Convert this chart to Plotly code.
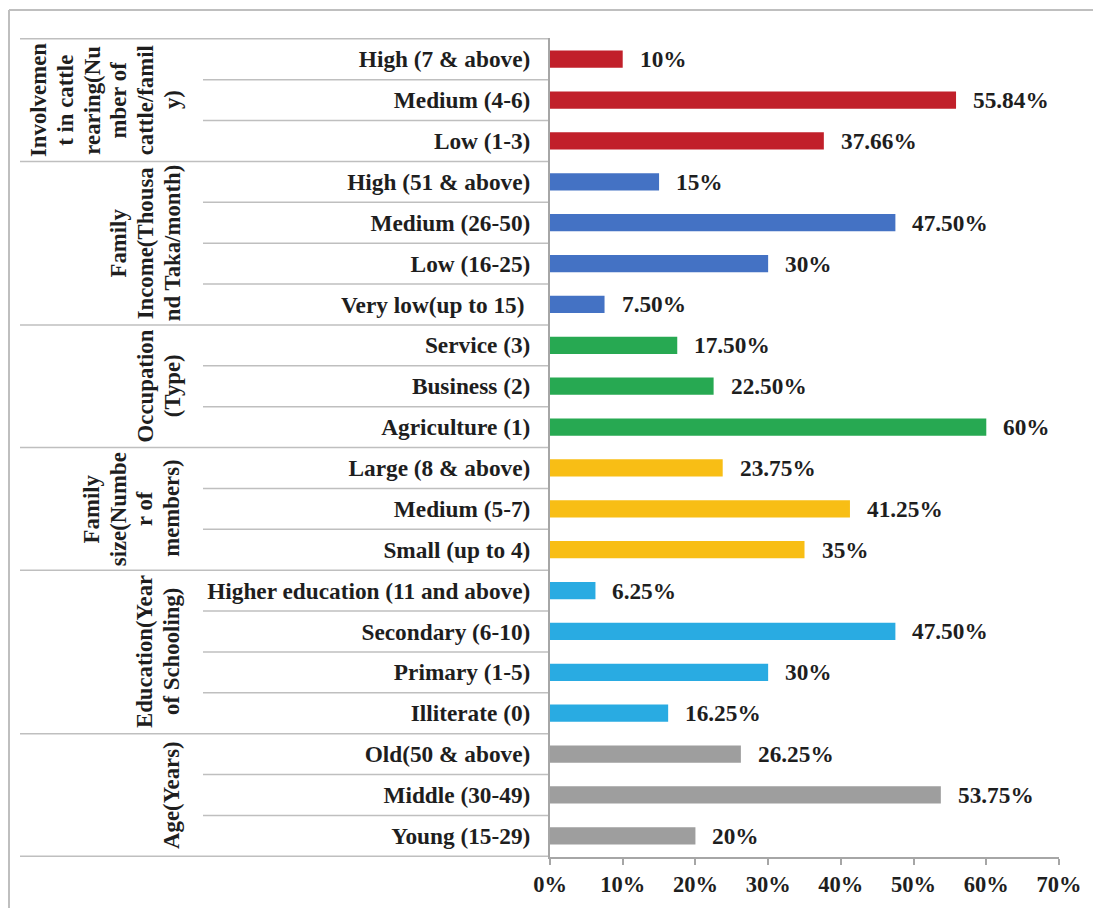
import plotly.graph_objects as go

# ---------------- data ----------------
categories = [
    "High (7 & above)", "Medium (4-6)", "Low (1-3)",
    "High (51 & above)", "Medium (26-50)", "Low (16-25)", "Very low(up to 15) ",
    "Service (3)", "Business (2)", "Agriculture (1)",
    "Large (8 & above)", "Medium (5-7)", "Small (up to 4)",
    "Higher education (11 and above)", "Secondary (6-10)", "Primary (1-5)", "Illiterate (0)",
    "Old(50 & above)", "Middle (30-49)", "Young (15-29)",
]
values = [10, 55.84, 37.66,
          15, 47.50, 30, 7.50,
          17.50, 22.50, 60,
          23.75, 41.25, 35,
          6.25, 47.50, 30, 16.25,
          26.25, 53.75, 20]
value_labels = ["10%", "55.84%", "37.66%",
                "15%", "47.50%", "30%", "7.50%",
                "17.50%", "22.50%", "60%",
                "23.75%", "41.25%", "35%",
                "6.25%", "47.50%", "30%", "16.25%",
                "26.25%", "53.75%", "20%"]
group_lines = [
    ["Involvemen", "t in cattle", "rearing(Nu", "mber of", "cattle/famil", "y)"],
    ["Family", "Income(Thousa", "nd Taka/month)"],
    ["Occupation", "(Type)"],
    ["Family", "size(Numbe", "r of", "members)"],
    ["Education(Year", "of Schooling)"],
    ["Age(Years)"],
]
group_sizes = [3, 4, 3, 3, 4, 3]
group_colors = ["#C1202A", "#4472C4", "#27A952", "#F8BE15", "#29ABE2", "#9E9E9E"]
x_ticks = [0, 10, 20, 30, 40, 50, 60, 70]

# ---------------- layout constants ----------------
OFF = 8                      # page body margin compensation
W, H = 1101 - OFF, 908 - OFF
ML, MR, MT, MB = 550 - OFF, 42, 38 - OFF, 51
PW = W - ML - MR
PH = H - MT - MB
FONT = "Liberation Serif, Times New Roman, serif"
TXT = "#1E1E1E"
GRID = "#BFBFBF"
AXIS = "#A6A6A6"
FS_CAT = 23.3
FS_GRP = 22.8
FS_TICK = 22.5


def px_x(xref_px):
    return (xref_px - OFF - ML) / PW


def px_y(yref_px):
    return (H - MB - (yref_px - OFF)) / PH


bar_colors = []
for c, n in zip(group_colors, group_sizes):
    bar_colors += [c] * n

fig = go.Figure()
fig.add_trace(go.Bar(
    x=[v / 100 for v in values],
    y=categories,
    orientation="h",
    marker=dict(color=bar_colors, line=dict(width=0)),
    width=0.42,
    hoverinfo="x+y",
))

annotations = []
for v, c, lab in zip(values, categories, value_labels):
    annotations.append(dict(
        x=v / 100, y=c, xref="x", yref="y", text=lab, showarrow=False,
        xanchor="left", yanchor="middle", xshift=15,
        font=dict(family=FONT, size=FS_CAT, color=TXT, weight="bold"),
    ))

shapes = []
start = 0
for lines, n in zip(group_lines, group_sizes):
    center = start + (n - 1) / 2
    k = len(lines)
    for i, line in enumerate(lines):
        xc = 172 - (k - 1 - i) * 26.8
        annotations.append(dict(
            x=px_x(xc), y=center, xref="paper", yref="y", text=line,
            showarrow=False, textangle=-90, xanchor="center", yanchor="middle",
            font=dict(family=FONT, size=FS_GRP, color=TXT, weight="bold"),
        ))
    for j in range(1, n):
        shapes.append(dict(type="line", xref="paper", yref="y",
                           x0=px_x(203), x1=0, y0=start + j - 0.5, y1=start + j - 0.5,
                           line=dict(color=GRID, width=1.5), layer="below"))
    shapes.append(dict(type="line", xref="paper", yref="y",
                       x0=px_x(20), x1=0, y0=start - 0.5, y1=start - 0.5,
                       line=dict(color=GRID, width=1.5), layer="below"))
    start += n
shapes.append(dict(type="line", xref="paper", yref="y",
                   x0=px_x(20), x1=0, y0=start - 0.5, y1=start - 0.5,
                   line=dict(color=GRID, width=1.5), layer="below"))

# outer chart border (top and left visible)
shapes.append(dict(type="line", xref="paper", yref="paper",
                   x0=px_x(9), x1=px_x(1110), y0=px_y(10), y1=px_y(10),
                   line=dict(color=GRID, width=2)))
shapes.append(dict(type="line", xref="paper", yref="paper",
                   x0=px_x(9), x1=px_x(9), y0=px_y(10), y1=px_y(915),
                   line=dict(color=GRID, width=2)))

fig.update_layout(
    width=W, height=H,
    margin=dict(l=ML, r=MR, t=MT, b=MB, pad=0),
    paper_bgcolor="white", plot_bgcolor="white",
    showlegend=False,
    font=dict(family=FONT, size=FS_CAT, color=TXT),
    annotations=annotations,
    shapes=shapes,
)
fig.update_xaxes(
    range=[0, 0.7],
    tickvals=[t / 100 for t in x_ticks],
    ticktext=[f"{t}%" for t in x_ticks],
    showgrid=False, zeroline=False,
    showline=True, linecolor=AXIS, linewidth=2,
    ticks="outside", ticklen=6, tickcolor=AXIS, tickwidth=2,
    tickfont=dict(family=FONT, size=FS_TICK, color=TXT, weight="bold"),
    fixedrange=True,
)
fig.update_yaxes(
    type="category",
    categoryorder="array", categoryarray=categories,
    autorange="reversed",
    showgrid=False, zeroline=False,
    showline=True, linecolor=AXIS, linewidth=2,
    ticks="", ticklabelstandoff=13,
    tickfont=dict(family=FONT, size=FS_CAT, color=TXT, weight="bold"),
    fixedrange=True,
)

fig.write_html("out.html")
